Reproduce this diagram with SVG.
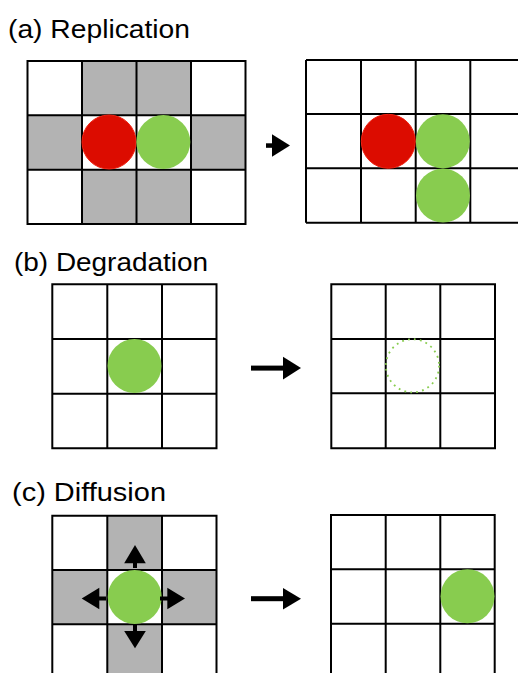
<svg xmlns="http://www.w3.org/2000/svg" width="518" height="673" viewBox="0 0 518 673">
<style>
.t{font-family:"Liberation Sans",Arial,sans-serif;font-size:25px;fill:#000}
.g{fill:#b3b3b3}
.ln{stroke:#000;stroke-width:2;fill:none}
.red{fill:#dc0c00;stroke:#f02010;stroke-width:1}
.grn{fill:#88cc4f}
.dot{fill:none;stroke:#88cc4f;stroke-width:1.8;stroke-dasharray:1.8 4.2}
.ar{fill:#000}
</style>
<rect width="518" height="673" fill="#fff"/>
<text class="t" x="8" y="37.5" textLength="182" lengthAdjust="spacingAndGlyphs">(a) Replication</text>
<text class="t" x="14" y="271" textLength="194" lengthAdjust="spacingAndGlyphs">(b) Degradation</text>
<text class="t" x="12" y="501" textLength="154" lengthAdjust="spacingAndGlyphs">(c) Diffusion</text>

<g id="a-before">
<rect class="g" x="82" y="61" width="109" height="54.3"/>
<rect class="g" x="27.5" y="115.3" width="54.5" height="54.4"/>
<rect class="g" x="191" y="115.3" width="54.5" height="54.4"/>
<rect class="g" x="82" y="169.7" width="109" height="54.3"/>
<path class="ln" d="M27.5 61H245.5V224H27.5Z M82 61V224 M136.5 61V224 M191 61V224 M27.5 115.3H245.5 M27.5 169.7H245.5"/>
<circle class="red" cx="109" cy="142" r="27"/>
<circle class="grn" cx="163.3" cy="142" r="27"/>
</g>
<g id="a-after">
<path class="ln" d="M306 60H530 M306 222.7H530 M306 60V222.7 M361 60V222.7 M415.7 60V222.7 M470.3 60V222.7 M306 114H530 M306 168.3H530"/>
<circle class="red" cx="388.3" cy="141.3" r="27"/>
<circle class="grn" cx="442.8" cy="141.3" r="27"/>
<circle class="grn" cx="443" cy="195.6" r="27"/>
</g>

<g id="b-before">
<path class="ln" d="M52.3 284.3H216.5V448.3H52.3Z M107.3 284.3V448.3 M162 284.3V448.3 M52.3 339H216.5 M52.3 393.7H216.5"/>
<circle class="grn" cx="134.5" cy="366" r="27"/>
</g>
<g id="b-after">
<path class="ln" d="M331.3 284.3H495V448.3H331.3Z M385.7 284.3V448.3 M440.3 284.3V448.3 M331.3 339H495 M331.3 393.3H495"/>
<circle class="dot" cx="412.5" cy="365.8" r="26.6"/>
</g>

<g id="c-before">
<rect class="g" x="107.3" y="515.7" width="54.7" height="54.3"/>
<rect class="g" x="52.3" y="570" width="55" height="54.3"/>
<rect class="g" x="162" y="570" width="54.5" height="54.3"/>
<rect class="g" x="107.3" y="624.3" width="54.7" height="55"/>
<path class="ln" d="M52.3 680V515.7H216.5V680 M107.3 515.7V680 M162 515.7V680 M52.3 570H216.5 M52.3 624.3H216.5"/>
<circle class="grn" cx="134.7" cy="597" r="27"/>
<g class="ar">
<rect x="133" y="562" width="4" height="6"/>
<polygon points="135,545 145.8,563.3 124.2,563.3"/>
<rect x="98" y="596.5" width="8" height="4"/>
<polygon points="81.7,598.5 99.3,587.7 99.3,609.3"/>
<rect x="160" y="596.5" width="8.5" height="4"/>
<polygon points="185,598.5 167.3,587.7 167.3,609.3"/>
<rect x="133" y="624" width="4" height="8"/>
<polygon points="135,648.3 124.2,631 145.8,631"/>
</g>
</g>
<g id="c-after">
<path class="ln" d="M331 680V515H494.7V680 M385.7 515V680 M440.3 515V680 M331 569.3H494.7 M331 623.7H494.7"/>
<circle class="grn" cx="467.5" cy="596.3" r="27"/>
</g>

<g id="connectors" class="ar">
<rect x="266" y="143.3" width="7" height="4.5"/>
<polygon points="272,134.3 290,145.5 272,156.7"/>
<rect x="251" y="365.6" width="33" height="5"/>
<polygon points="283,356.7 301,368.1 283,379.5"/>
<rect x="251" y="596.2" width="33" height="5"/>
<polygon points="283,587.9 301,598.7 283,609.5"/>
</g>
</svg>
